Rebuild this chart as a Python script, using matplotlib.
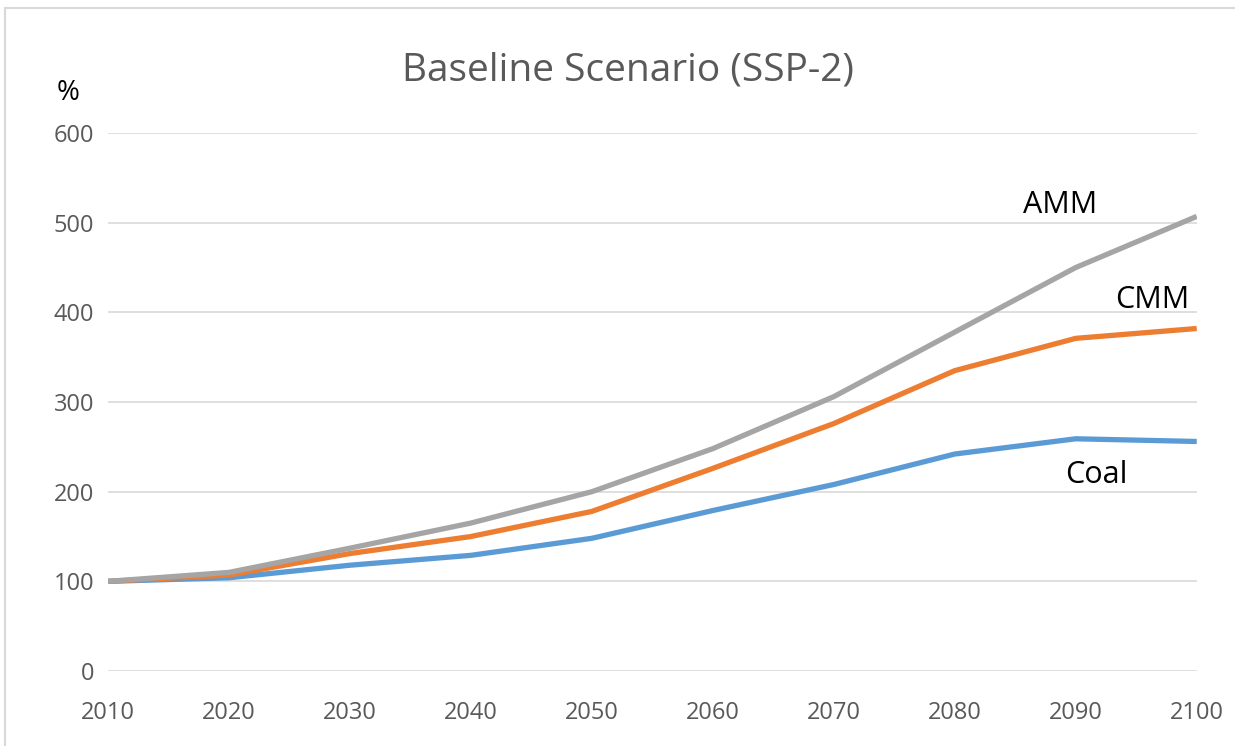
import matplotlib.pyplot as plt
from matplotlib.patches import Rectangle

years = [2010, 2020, 2030, 2040, 2050, 2060, 2070, 2080, 2090, 2100]
coal = [100, 104, 118, 129, 148, 179, 208, 242, 259, 256]
cmm = [100, 107, 131, 150, 178, 226, 276, 335, 371, 382]
amm = [100, 110, 137, 165, 200, 248, 306, 378, 450, 507]
yticks = [0, 100, 200, 300, 400, 500, 600]

plt.rcParams['font.family'] = ['Open Sans', 'DejaVu Sans']

fig = plt.figure(figsize=(12.35, 7.46), dpi=100)
ax = fig.add_axes([0.0874, 0.1005, 0.8816, 0.7212])

# light frame of the chart area
fig.patches.append(Rectangle((5 / 1235, -0.1), 1.2, 1.1 - 8 / 746,
                             transform=fig.transFigure, fill=False,
                             edgecolor='#d9d9d9', linewidth=1.5))

ax.plot(years, coal, color='#5b9bd5', lw=3.8, solid_capstyle='butt')
ax.plot(years, cmm, color='#ed7d31', lw=3.8, solid_capstyle='butt')
ax.plot(years, amm, color='#a5a5a5', lw=3.8, solid_capstyle='butt')

ax.set_xlim(2010, 2100)
ax.set_ylim(0, 600)
ax.set_xticks(years)
ax.set_yticks(yticks)
ax.grid(axis='y', color='#d9d9d9', lw=1.2)
ax.set_axisbelow(True)
for s in ax.spines.values():
    s.set_visible(False)
ax.tick_params(length=0, labelsize=17, colors='#595959')
ax.tick_params(axis='y', pad=10)
for t in ax.get_xticklabels():
    t.set_va('center')
ax.tick_params(axis='x', pad=30)

ax.text(2088.7, 520, 'AMM', fontsize=22, ha='center', va='center')
ax.text(2096.3, 414, 'CMM', fontsize=22, ha='center', va='center')
ax.text(2091.7, 219, 'Coal', fontsize=22, ha='center', va='center')

fig.text(68 / 1235, 1 - 93 / 746, '%', fontsize=20, ha='center', va='center')
fig.text(628 / 1235, 1 - 70 / 746, 'Baseline Scenario (SSP-2)', fontsize=28,
         color='#595959', ha='center', va='center')

fig.savefig('out.png', dpi=100)
